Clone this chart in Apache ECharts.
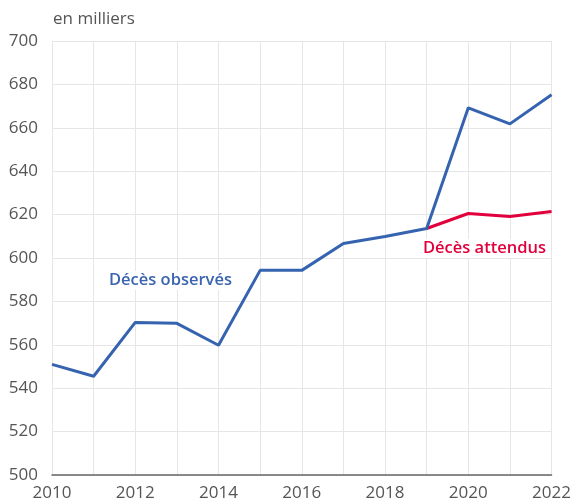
<!DOCTYPE html>
<html>
<head>
<meta charset="utf-8">
<script src="https://cdn.jsdelivr.net/npm/echarts@6/dist/echarts.min.js"></script>
<style>
  html, body { margin: 0; padding: 0; background: #fff; }
  #chart { width: 574px; height: 502px; }
</style>
</head>
<body>
<div id="chart"></div>
<script>
// données (en milliers)
var years = ["2010", "2011", "2012", "2013", "2014", "2015", "2016", "2017", "2018", "2019", "2020", "2021", "2022"];
var observes = [551, 545.5, 570.3, 569.9, 559.8, 594.3, 594.3, 606.7, 609.9, 613.6, 669.2, 661.8, 675.2];
var attendus = [null, null, null, null, null, null, null, null, null, 613.6, 620.5, 619.1, 621.4];

var myChart = echarts.init(document.getElementById("chart"));

var option = {
  animation: false,
  grid: { left: 52, right: 21, top: 41, bottom: 26 },
  xAxis: {
    type: "category",
    data: years,
    boundaryGap: false,
    axisLine: { lineStyle: { color: "#666", width: 1.5 } },
    axisTick: { show: false },
    axisLabel: { interval: 1, color: "#555", fontSize: 17, fontFamily: "Open Sans", margin: 10 },
    splitLine: { show: true, interval: 0, lineStyle: { color: "#e6e6e6" } },
  },
  yAxis: {
    type: "value",
    min: 500,
    max: 700,
    interval: 20,
    axisLine: { show: false },
    axisTick: { show: false },
    axisLabel: { color: "#555", fontSize: 17, fontFamily: "Open Sans", margin: 14 },
    splitLine: { lineStyle: { color: "#e6e6e6" } },
  },
  graphic: [
    { type: "text", left: 53, top: 11, style: { text: "en milliers", fill: "#555", font: "17px 'Open Sans'" } },
    {
      type: "text", left: 105, top: 271, z: 10,
      style: { text: "Décès observés", fill: "#3a64b0", font: "600 16.5px 'Open Sans'", backgroundColor: "#fff", padding: [1, 4] },
    },
    {
      type: "text", left: 421, top: 239, z: 10,
      style: { text: "Décès attendus", fill: "#e2003c", font: "600 16.5px 'Open Sans'", backgroundColor: "#fff", padding: [1, 2] },
    },
  ],
  series: [
    {
      name: "Décès attendus",
      type: "line",
      data: attendus,
      symbol: "none",
      lineStyle: { color: "#e2003c", width: 3 },
    },
    {
      name: "Décès observés",
      type: "line",
      data: observes,
      symbol: "none",
      lineStyle: { color: "#3563af", width: 3 },
    },
  ],
};

myChart.setOption(option);
</script>
</body>
</html>
